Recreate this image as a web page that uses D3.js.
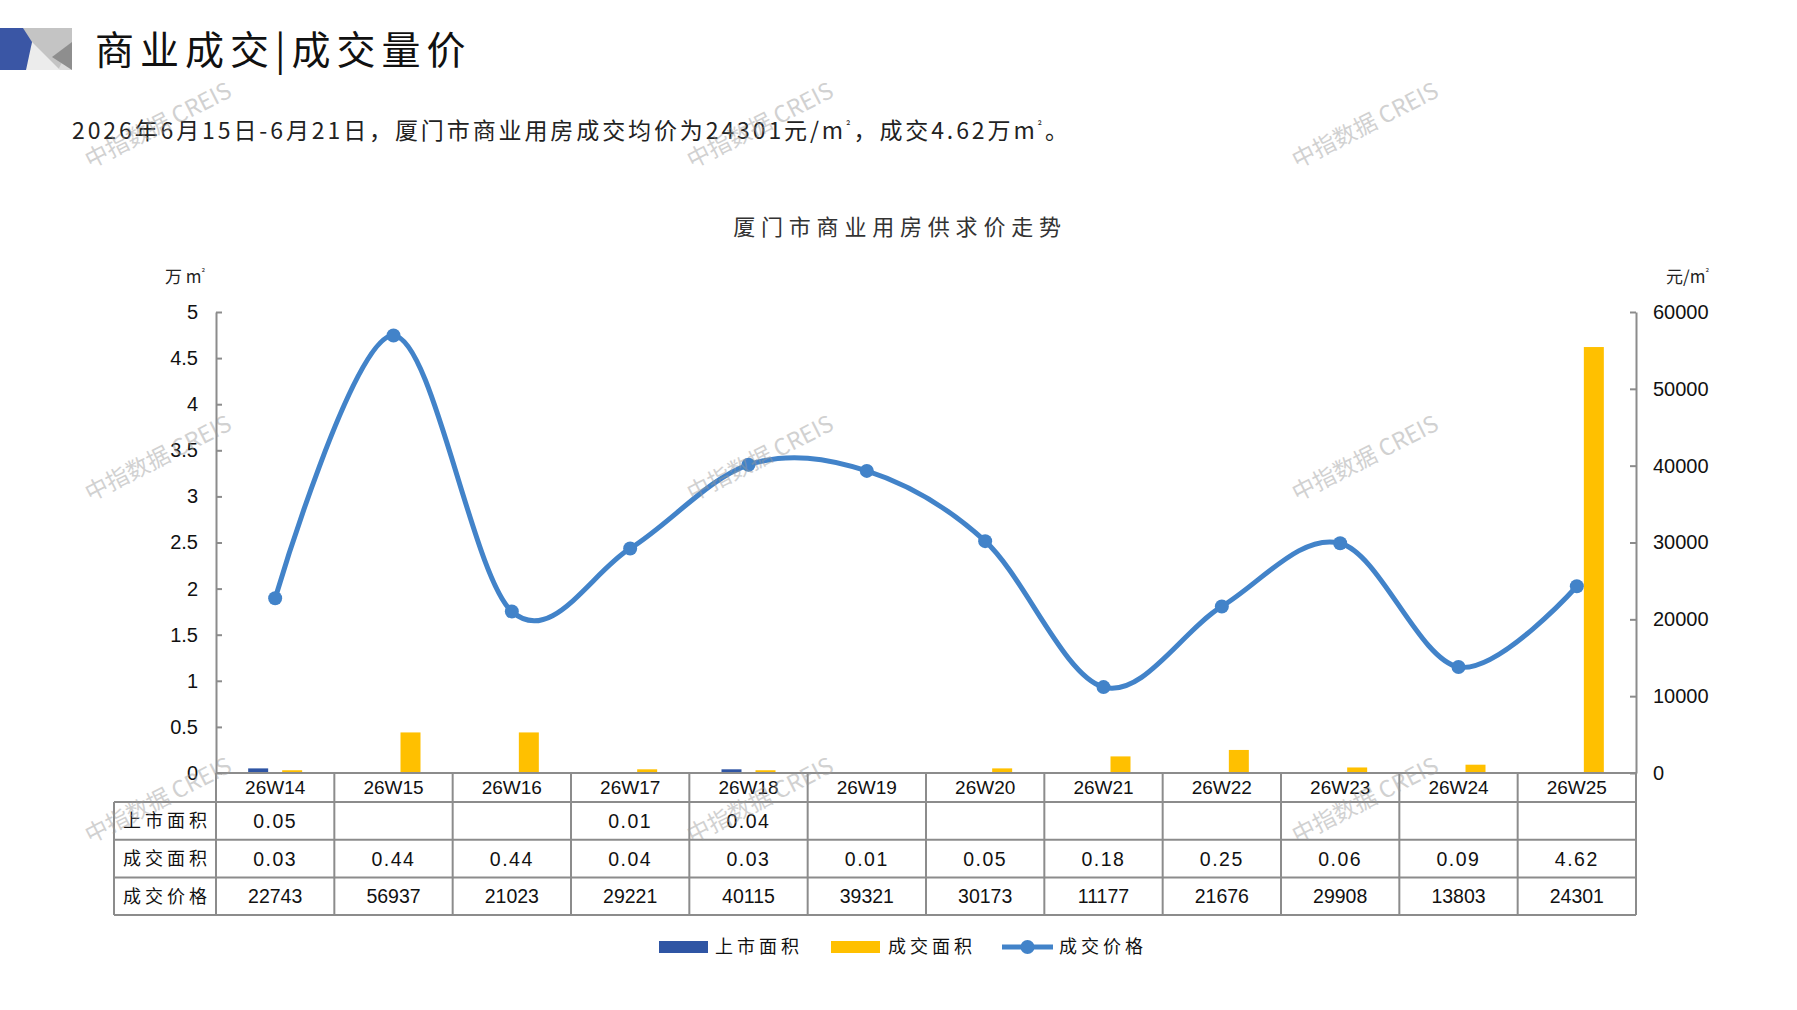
<!DOCTYPE html>
<html>
<head>
<meta charset="utf-8">
<script src="https://cdn.jsdelivr.net/npm/d3@7"></script>
<style>
body { margin: 0; background: #fff; }
svg { display: block; }
</style>
</head>
<body>
<svg id="chart" width="1797" height="1010"></svg>
<script>
// data
const weeks = ['26W14','26W15','26W16','26W17','26W18','26W19','26W20','26W21','26W22','26W23','26W24','26W25']
const listedArea = [0.05, null, null, 0.01, 0.04, null, null, null, null, null, null, null]
const dealArea = [0.03, 0.44, 0.44, 0.04, 0.03, 0.01, 0.05, 0.18, 0.25, 0.06, 0.09, 4.62]
const dealPrice = [22743, 56937, 21023, 29221, 40115, 39321, 30173, 11177, 21676, 29908, 13803, 24301]
const areaTicks = [0, 0.5, 1, 1.5, 2, 2.5, 3, 3.5, 4, 4.5, 5]
const priceTicks = [0, 10000, 20000, 30000, 40000, 50000, 60000]
const seriesNames = ['上市面积', '成交面积', '成交价格']

const svg = d3.select('#chart')
const cjk = '"Noto Sans CJK SC", "Noto Sans", sans-serif'
const latin = '"Liberation Sans", Arial, sans-serif'
const blue = '#2f55a4'
const yellow = '#ffc000'
const lineBlue = '#4283c9'
const gridGray = '#8c8c8c'

// layout
const plotLeft = 216, plotRight = 1636, plotTop = 312, plotBase = 773
const labelLeft = 114
const headerH = 29, rowH = 37.7

const x = d3.scaleBand().domain(weeks).range([plotLeft, plotRight])
const bw = x.bandwidth()
const sub = d3.scaleBand().domain(seriesNames.slice(0, 2))
	.range([bw / 2 - 27, bw / 2 + 27]).paddingInner(0.412)
const yL = d3.scaleLinear().domain([0, 5]).range([plotBase, plotTop])
const yR = d3.scaleLinear().domain([0, 60000]).range([plotBase, plotTop])

// header logo
const logo = svg.append('g')
logo.append('rect').attr('x', 0).attr('y', 28).attr('width', 72).attr('height', 42).attr('fill', '#dcdcdc')
logo.append('polygon').attr('points', '23,28 72,28 72,44 58,70 44,70').attr('fill', '#c4c4c4')
logo.append('polygon').attr('points', '32,42 60,70 26,70').attr('fill', '#ececec')
logo.append('polygon').attr('points', '72,42 72,70 52,57').attr('fill', '#8e8e8e')
logo.append('polygon').attr('points', '0,28 23,28 32,42 26,70 0,70').attr('fill', '#3a56a5')

svg.append('text')
	.attr('x', 95).attr('y', 64)
	.style('font-family', cjk).style('font-size', '39px').style('letter-spacing', '6px')
	.attr('fill', '#111')
	.text('商业成交|成交量价')

// text with a small raised ² as in the original
const unitText = (sel, parts, supSize, shift) => {
	let raised = false
	parts.forEach(p => {
		if (p === '²') {
			sel.append('tspan').attr('dy', -shift).style('font-size', supSize).text('²')
			raised = true
		} else {
			sel.append('tspan').attr('dy', raised ? shift : 0).text(p)
			raised = false
		}
	})
}

const subTitle = svg.append('text')
	.attr('x', 72).attr('y', 139)
	.style('font-family', cjk).style('font-size', '23px').style('letter-spacing', '2.9px')
	.attr('fill', '#222')
unitText(subTitle, ['2026年6月15日-6月21日，厦门市商业用房成交均价为24301元/m', '²', '，成交4.62万m', '²', '。'], '11px', 9)

svg.append('text')
	.attr('x', 900).attr('y', 235)
	.attr('text-anchor', 'middle')
	.style('font-family', cjk).style('font-size', '22px').style('letter-spacing', '5.8px')
	.attr('fill', '#333')
	.text('厦门市商业用房供求价走势')

const unitL = svg.append('text')
	.attr('x', 165).attr('y', 283)
	.style('font-family', cjk).style('font-size', '17px')
	.attr('fill', '#222')
unitText(unitL, ['万 m', '²'], '9px', 7)

const unitR = svg.append('text')
	.attr('x', 1666).attr('y', 283)
	.style('font-family', cjk).style('font-size', '17px')
	.attr('fill', '#222')
unitText(unitR, ['元/m', '²'], '9px', 7)

// axes
const axisL = d3.axisLeft(yL)
	.tickValues(areaTicks)
	.tickSizeInner(-6).tickSizeOuter(0).tickPadding(18)
	.tickFormat(d3.format(''))
const axisR = d3.axisRight(yR)
	.tickValues(priceTicks)
	.tickSizeInner(-6).tickSizeOuter(0).tickPadding(17)
	.tickFormat(d3.format('d'))

svg.append('g').attr('class', 'axis').attr('transform', `translate(${plotLeft},0)`).call(axisL)
svg.append('g').attr('class', 'axis').attr('transform', `translate(${plotRight},0)`).call(axisR)

svg.selectAll('.axis path.domain').attr('stroke', gridGray).attr('stroke-width', 2)
svg.selectAll('.axis .tick line').attr('stroke', gridGray).attr('stroke-width', 2)
svg.selectAll('.axis .tick text')
	.attr('fill', '#111')
	.style('font-family', latin).style('font-size', '20px')

// bars
const barRows = weeks.map((w, i) => ({ week: w, values: [listedArea[i], dealArea[i]] }))
const barGroups = svg.selectAll('g.week')
	.data(barRows)
	.enter()
	.append('g')
		.attr('class', 'week')
		.attr('transform', d => `translate(${x(d.week)},0)`)

barGroups.selectAll('rect')
	.data(d => d.values.map((v, k) => ({ name: seriesNames[k], value: v })).filter(e => e.value != null))
	.enter()
	.append('rect')
		.attr('x', d => sub(d.name))
		.attr('width', sub.bandwidth())
		.attr('y', d => yL(d.value))
		.attr('height', d => plotBase - yL(d.value))
		.attr('fill', d => d.name === seriesNames[0] ? blue : yellow)

// price line
const pricePts = weeks.map((w, i) => ({ week: w, price: dealPrice[i] }))
const line = d3.line()
	.x(d => x(d.week) + bw / 2)
	.y(d => yR(d.price))
	.curve(d3.curveCardinal.tension(0))

svg.append('path')
	.datum(pricePts)
	.attr('d', line)
	.attr('fill', 'none')
	.attr('stroke', lineBlue)
	.attr('stroke-width', 5)

svg.selectAll('circle.pt')
	.data(pricePts)
	.enter()
	.append('circle')
		.attr('class', 'pt')
		.attr('cx', d => x(d.week) + bw / 2)
		.attr('cy', d => yR(d.price))
		.attr('r', 7)
		.attr('fill', lineBlue)

// data table
const rowTops = [plotBase, plotBase + headerH, plotBase + headerH + rowH, plotBase + headerH + rowH * 2, plotBase + headerH + rowH * 3]
const table = svg.append('g')

rowTops.forEach((yy, k) => {
	table.append('line')
		.attr('x1', k === 0 ? plotLeft : labelLeft).attr('x2', plotRight)
		.attr('y1', yy).attr('y2', yy)
		.attr('stroke', gridGray).attr('stroke-width', 2)
})

const colEdges = weeks.map(w => x(w)).concat([plotRight])
colEdges.forEach(xx => {
	table.append('line')
		.attr('x1', xx).attr('x2', xx)
		.attr('y1', plotBase).attr('y2', rowTops[4])
		.attr('stroke', gridGray).attr('stroke-width', 2)
})
table.append('line')
	.attr('x1', labelLeft).attr('x2', labelLeft)
	.attr('y1', rowTops[1]).attr('y2', rowTops[4])
	.attr('stroke', gridGray).attr('stroke-width', 2)

table.selectAll('text.wk')
	.data(weeks)
	.enter()
	.append('text')
		.attr('class', 'wk')
		.attr('x', d => x(d) + bw / 2)
		.attr('y', (rowTops[0] + rowTops[1]) / 2)
		.attr('dy', '0.36em')
		.attr('text-anchor', 'middle')
		.style('font-family', latin).style('font-size', '19px')
		.attr('fill', '#111')
		.text(d => d)

const f2 = d3.format('.2f')
const tableRows = [
	{ name: seriesNames[0], values: listedArea.map(v => v == null ? '' : f2(v)) },
	{ name: seriesNames[1], values: dealArea.map(v => f2(v)) },
	{ name: seriesNames[2], values: dealPrice.map(v => String(v)) }
]

tableRows.forEach((r, k) => {
	const cy = (rowTops[k + 1] + rowTops[k + 2]) / 2
	table.append('text')
		.attr('x', (labelLeft + plotLeft) / 2 + 2)
		.attr('y', cy)
		.attr('dy', '0.36em')
		.attr('text-anchor', 'middle')
		.style('font-family', cjk).style('font-size', '18px').style('letter-spacing', '4px')
		.attr('fill', '#111')
		.text(r.name)
	table.selectAll('text.r' + k)
		.data(r.values)
		.enter()
		.append('text')
			.attr('class', 'r' + k)
			.attr('x', (d, i) => x(weeks[i]) + bw / 2)
			.attr('y', cy)
			.attr('dy', '0.36em')
			.attr('text-anchor', 'middle')
			.style('font-family', latin).style('font-size', '19.5px')
			.style('letter-spacing', k < 2 ? '1.5px' : '0px')
			.attr('fill', '#111')
			.text(d => d)
})

// legend
const legendY = 947
const lg = svg.append('g')
lg.append('rect').attr('x', 659).attr('y', legendY - 6).attr('width', 49).attr('height', 12).attr('fill', blue)
lg.append('text').attr('x', 715).attr('y', legendY).attr('dy', '0.36em')
	.style('font-family', cjk).style('font-size', '18px').style('letter-spacing', '4px')
	.attr('fill', '#111').text(seriesNames[0])
lg.append('rect').attr('x', 831).attr('y', legendY - 6).attr('width', 49).attr('height', 12).attr('fill', yellow)
lg.append('text').attr('x', 888).attr('y', legendY).attr('dy', '0.36em')
	.style('font-family', cjk).style('font-size', '18px').style('letter-spacing', '4px')
	.attr('fill', '#111').text(seriesNames[1])
lg.append('line').attr('x1', 1002).attr('x2', 1053).attr('y1', legendY).attr('y2', legendY)
	.attr('stroke', lineBlue).attr('stroke-width', 5)
lg.append('circle').attr('cx', 1027.5).attr('cy', legendY).attr('r', 7).attr('fill', lineBlue)
lg.append('text').attr('x', 1059).attr('y', legendY).attr('dy', '0.36em')
	.style('font-family', cjk).style('font-size', '18px').style('letter-spacing', '4px')
	.attr('fill', '#111').text(seriesNames[2])

// watermark
const wmX = [158, 760, 1365]
const wmY = [125, 458, 800]
wmY.forEach(wy => wmX.forEach(wx => {
	svg.append('text')
		.attr('transform', `translate(${wx},${wy}) rotate(-27)`)
		.attr('text-anchor', 'middle')
		.attr('dy', '0.36em')
		.style('font-family', cjk).style('font-size', '23px')
		.attr('fill', '#9a9a9a').attr('opacity', 0.45)
		.text('中指数据 CREIS')
}))
</script>
</body>
</html>
